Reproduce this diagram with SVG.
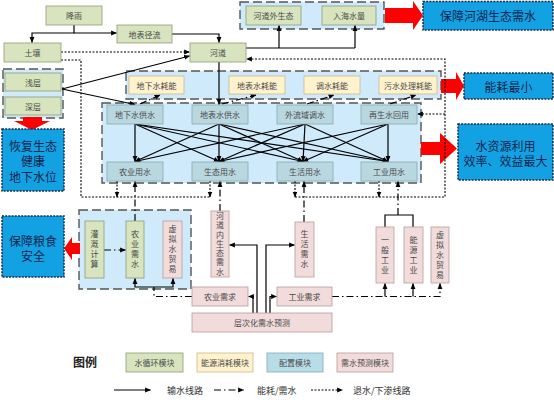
<svg xmlns="http://www.w3.org/2000/svg" width="554" height="400" viewBox="0 0 554 400">
<defs>
<style>
.t{font-family:"Noto Sans CJK SC","Noto Sans",sans-serif;font-size:8px;fill:#4a4a4a;text-anchor:middle;dominant-baseline:central}
.v{font-family:"Noto Sans CJK SC","Noto Sans",sans-serif;font-size:8px;fill:#4a4a4a;text-anchor:middle;writing-mode:vertical-rl;letter-spacing:2px}
.big{font-family:"Noto Sans CJK SC","Noto Sans",sans-serif;font-size:12px;fill:#14244a;text-anchor:middle;dominant-baseline:central}
.lg{font-family:"Noto Sans CJK SC","Noto Sans",sans-serif;font-size:9px;fill:#333;dominant-baseline:central}
.g{fill:#d7e4bd;stroke:#8e9c78;stroke-width:0.8}
.y{fill:#fff2cc;stroke:#c8b88c;stroke-width:0.8}
.b{fill:#b9d7df;stroke:#88a8b0;stroke-width:0.8}
.p{fill:#f2dcdb;stroke:#b89c9c;stroke-width:0.8}
.cont{fill:#cfeafb;stroke:#555;stroke-width:1.4;stroke-dasharray:9 4}
.res{fill:#12a2e4;stroke:#1c2a44;stroke-width:1.5;stroke-dasharray:2 1.2}
.red{fill:#ff0000}
.s{stroke:#000;stroke-width:1.2;fill:none}
.dd{stroke:#000;stroke-width:1.2;fill:none;stroke-dasharray:7 3 1.5 3}
.dot{stroke:#000;stroke-width:1.1;fill:none;stroke-dasharray:2 1.5}
</style>
<marker id="ah" viewBox="0 0 10 10" refX="9" refY="5" markerWidth="6" markerHeight="6" markerUnits="userSpaceOnUse" orient="auto"><path d="M0,1 L10,5 L0,9 z" fill="#000"/></marker>
</defs>
<rect width="554" height="400" fill="#fff"/>

<!-- containers -->
<g id="containers">
<rect class="cont" x="240" y="2" width="144" height="27"/>
<rect class="cont" x="3" y="69" width="60" height="49"/>
<rect class="cont" x="126" y="71" width="315" height="28"/>
<rect class="cont" x="102" y="103" width="319" height="80"/>
<rect class="cont" x="79" y="210" width="112" height="79"/>
</g>

<!-- red arrows -->
<g id="red-arrows">
<polygon class="red" points="385,8 413,8 413,1 423,15.5 413,30 413,23 385,23"/>
<polygon class="red" points="441,79 456,79 456,72 464,86 456,100 456,93 441,93"/>
<polygon class="red" points="421,142 440,142 440,133 457,148.5 440,164 440,155 421,155"/>
<polygon class="red" points="23,117 42,117 42,121 50,121 32,130 14,121 23,121"/>
<polygon class="red" points="80,243 72,243 72,237 64,248.5 72,260 72,254 80,254"/>
</g>

<!-- connectors -->
<g id="connectors">
<path class="s" d="M74,25 V33 H32 V42.5" marker-end="url(#ah)"/>
<path class="s" d="M74,33 H116.5" marker-end="url(#ah)"/>
<path class="s" d="M172,34 H219 V42.5" marker-end="url(#ah)"/>
<path class="s" d="M246,48 H355"/>
<path class="s" d="M279,48 V25.5" marker-end="url(#ah)"/>
<path class="s" d="M355,48 V25.5" marker-end="url(#ah)"/>
<path class="s" d="M62,89 L189.5,56" marker-end="url(#ah)"/>
<path class="s" d="M62,89 L135,104.5" marker-end="url(#ah)"/>
<path class="s" d="M219,62 V104.5" marker-end="url(#ah)"/>
<!-- supply to usage -->
<path class="s" d="M135,124 L135,161.5" marker-end="url(#ah)"/>
<path class="s" d="M135,124 L219,161.5" marker-end="url(#ah)"/>
<path class="s" d="M135,124 L303,161.5" marker-end="url(#ah)"/>
<path class="s" d="M135,124 L388,161.5" marker-end="url(#ah)"/>
<path class="s" d="M219,124 L135,161.5" marker-end="url(#ah)"/>
<path class="s" d="M219,124 L219,161.5" marker-end="url(#ah)"/>
<path class="s" d="M219,124 L303,161.5" marker-end="url(#ah)"/>
<path class="s" d="M219,124 L388,161.5" marker-end="url(#ah)"/>
<path class="s" d="M305,124 L135,161.5" marker-end="url(#ah)"/>
<path class="s" d="M305,124 L219,161.5" marker-end="url(#ah)"/>
<path class="s" d="M305,124 L303,161.5" marker-end="url(#ah)"/>
<path class="s" d="M305,124 L388,161.5" marker-end="url(#ah)"/>
<path class="s" d="M388,124 L219,161.5" marker-end="url(#ah)"/>
<path class="s" d="M388,124 L303,161.5" marker-end="url(#ah)"/>
<path class="s" d="M388,124 L388,161.5" marker-end="url(#ah)"/>
<!-- demand prediction -->
<path class="s" d="M253,313 V296.5 H248.5" marker-end="url(#ah)"/>
<path class="s" d="M257,313 V245 H229.5" marker-end="url(#ah)"/>
<path class="s" d="M266,313 V245 H294.5" marker-end="url(#ah)"/>
<path class="s" d="M270,313 V296.5 H276.5" marker-end="url(#ah)"/>
<!-- energy / demand dash-dot -->
<path class="dd" d="M104,250 H125.5" marker-end="url(#ah)"/>
<path class="dd" d="M135,221 V181.5" marker-end="url(#ah)"/>
<path class="dd" d="M220,211 V181.5" marker-end="url(#ah)"/>
<path class="dd" d="M304,222 V181.5" marker-end="url(#ah)"/>
<path class="s" d="M385,227 V215 H413 V227"/>
<path class="dd" d="M398,215 V181.5" marker-end="url(#ah)"/>
<path class="dd" d="M192,296.5 H154 V287"/>
<path class="s" d="M154,287 H135 V278.5" marker-end="url(#ah)"/>
<path class="s" d="M154,287 H173 V278.5" marker-end="url(#ah)"/>
<path class="dd" d="M332,296.5 H440 V283.5" marker-end="url(#ah)"/>
<path class="s" d="M385,296.5 V283.5" marker-end="url(#ah)"/>
<path class="s" d="M413,296.5 V283.5" marker-end="url(#ah)"/>
<path class="dd" d="M140,104 L160,95" marker-end="url(#ah)"/>
<path class="dd" d="M222,104 L256,95" marker-end="url(#ah)"/>
<path class="dd" d="M307,104 L334,95" marker-end="url(#ah)"/>
<path class="dd" d="M390,104 L416,95" marker-end="url(#ah)"/>
<!-- dotted return lines -->
<path class="dot" d="M61,52 H189.5" marker-end="url(#ah)"/>
<path class="dot" d="M61,60 H81 V197 H210"/>
<path class="dot" d="M117,181 V197" marker-end="url(#ah)"/>
<path class="dot" d="M210,181 V197" marker-end="url(#ah)"/>
<path class="dot" d="M295,181 V197" marker-end="url(#ah)"/>
<path class="dot" d="M379,181 V197" marker-end="url(#ah)"/>
<path class="dot" d="M295,197 H445 V59 H246.5" marker-end="url(#ah)"/>
<path class="dot" d="M445,114 H417.5" marker-end="url(#ah)"/>
</g>

<!-- water cycle nodes -->
<g id="n-rain"><rect class="g" x="46" y="6" width="56" height="19"/><text class="t" x="74" y="15.5">降雨</text></g>
<g id="n-runoff"><rect class="g" x="117" y="25" width="55" height="18"/><text class="t" x="144.5" y="34">地表径流</text></g>
<g id="n-soil"><rect class="g" x="4" y="43" width="57" height="19"/><text class="t" x="32.5" y="52.5">土壤</text></g>
<g id="n-shallow"><rect class="g" x="5" y="73" width="56" height="18"/><text class="t" x="33" y="82">浅层</text></g>
<g id="n-deep"><rect class="g" x="5" y="97" width="56" height="18"/><text class="t" x="33" y="106">深层</text></g>
<g id="n-river"><rect class="g" x="190" y="43" width="56" height="19"/><text class="t" x="218" y="52.5">河道</text></g>
<g id="n-outeco"><rect class="g" x="246" y="6" width="55" height="19"/><text class="t" x="273.5" y="15.5">河道外生态</text></g>
<g id="n-sea"><rect class="g" x="322" y="6" width="54" height="19"/><text class="t" x="349" y="15.5">入海水量</text></g>

<!-- energy nodes -->
<g id="e-gw"><rect class="y" x="129" y="76" width="55" height="18"/><text class="t" x="156.5" y="85">地下水耗能</text></g>
<g id="e-sw"><rect class="y" x="229" y="76" width="56" height="18"/><text class="t" x="257" y="85">地表水耗能</text></g>
<g id="e-tr"><rect class="y" x="304" y="76" width="56" height="18"/><text class="t" x="332" y="85">调水耗能</text></g>
<g id="e-ww"><rect class="y" x="379" y="76" width="58" height="18"/><text class="t" x="408" y="85">污水处理耗能</text></g>

<!-- supply nodes -->
<g id="s-gw"><rect class="b" x="107" y="105" width="56" height="19"/><text class="t" x="135" y="114.5">地下水供水</text></g>
<g id="s-sw"><rect class="b" x="192" y="105" width="56" height="19"/><text class="t" x="220" y="114.5">地表水供水</text></g>
<g id="s-tr"><rect class="b" x="277" y="105" width="56" height="19"/><text class="t" x="305" y="114.5">外流域调水</text></g>
<g id="s-re"><rect class="b" x="361" y="105" width="56" height="19"/><text class="t" x="389" y="114.5">再生水回用</text></g>

<!-- usage nodes -->
<g id="u-ag"><rect class="b" x="107" y="162" width="56" height="19"/><text class="t" x="135" y="171.5">农业用水</text></g>
<g id="u-eco"><rect class="b" x="192" y="162" width="56" height="19"/><text class="t" x="220" y="171.5">生态用水</text></g>
<g id="u-life"><rect class="b" x="277" y="162" width="56" height="19"/><text class="t" x="305" y="171.5">生活用水</text></g>
<g id="u-ind"><rect class="b" x="361" y="162" width="56" height="19"/><text class="t" x="389" y="171.5">工业用水</text></g>

<!-- agriculture module -->
<g id="a-irr"><rect class="g" x="85" y="221" width="19" height="57"/><text class="v" x="94.5" y="250">灌溉计算</text></g>
<g id="a-dem"><rect class="g" x="126" y="221" width="18" height="57"/><text class="v" x="135" y="250">农业需水</text></g>
<g id="a-vw"><rect class="p" x="163" y="221" width="19" height="57"/><text class="v" x="172.5" y="250">虚拟水贸易</text></g>

<!-- demand nodes -->
<g id="d-eco"><rect class="p" x="211" y="211" width="18" height="66"/><text class="v" x="220" y="244.5" style="letter-spacing:1.3px">河道内生态需水</text></g>
<g id="d-life"><rect class="p" x="295" y="222" width="19" height="55"/><text class="v" x="304.5" y="250">生活需水</text></g>
<g id="d-gen"><rect class="p" x="376" y="227" width="18" height="56"/><text class="v" x="385" y="255.5">一般工业</text></g>
<g id="d-en"><rect class="p" x="404" y="227" width="19" height="56"/><text class="v" x="413.5" y="255.5">能源工业</text></g>
<g id="d-vw"><rect class="p" x="431" y="227" width="18" height="56"/><text class="v" x="440" y="255.5">虚拟水贸易</text></g>
<g id="d-ag"><rect class="p" x="192" y="287" width="56" height="19"/><text class="t" x="220" y="296.5">农业需求</text></g>
<g id="d-in"><rect class="p" x="277" y="287" width="55" height="19"/><text class="t" x="304.5" y="296.5">工业需求</text></g>
<g id="d-pred"><rect class="p" x="192" y="313" width="140" height="19"/><text class="t" x="262" y="322.5">层次化需水预测</text></g>

<!-- result boxes -->
<g id="r-river"><rect class="res" x="423" y="1.5" width="130" height="28.5"/><text class="big" x="488" y="15.5">保障河湖生态需水</text></g>
<g id="r-energy"><rect class="res" x="464" y="73" width="89" height="26"/><text class="big" x="508.5" y="86">能耗最小</text></g>
<g id="r-eff"><rect class="res" x="458" y="124" width="95" height="56"/><text class="big" x="505.5" y="145">水资源利用</text><text class="big" x="505.5" y="160.5">效率、效益最大</text></g>
<g id="r-gw"><rect class="res" x="2" y="129" width="62" height="62"/><text class="big" x="33" y="145">恢复生态</text><text class="big" x="33" y="160.5">健康</text><text class="big" x="33" y="176">地下水位</text></g>
<g id="r-food"><rect class="res" x="2" y="216" width="62" height="61"/><text class="big" x="33" y="240">保障粮食</text><text class="big" x="33" y="255.5">安全</text></g>

<!-- legend -->
<g id="legend">
<text x="73" y="361" style="font-family:'Noto Sans CJK SC',sans-serif;font-size:12px;font-weight:bold;fill:#222;dominant-baseline:central">图例</text>
<rect class="g" x="126" y="353" width="57" height="19"/><text class="t" x="154.5" y="362.5">水循环模块</text>
<rect class="y" x="197" y="353" width="56" height="19"/><text class="t" x="225" y="362.5">能源消耗模块</text>
<rect fill="#b7dee8" stroke="#88a8b0" stroke-width="0.8" x="267" y="353" width="56" height="19"/><text class="t" x="295" y="362.5">配置模块</text>
<rect class="p" x="337" y="353" width="56" height="19"/><text class="t" x="365" y="362.5">需水预测模块</text>
<path class="s" d="M114,390 H150.5" marker-end="url(#ah)"/>
<text class="lg" x="167" y="390">输水线路</text>
<path class="dd" d="M214,390 H243.5" marker-end="url(#ah)"/>
<text class="lg" x="257" y="390">能耗/需水</text>
<path class="dot" d="M311,390 H342.5" marker-end="url(#ah)"/>
<text class="lg" x="353" y="390">退水/下渗线路</text>
</g>
</svg>
